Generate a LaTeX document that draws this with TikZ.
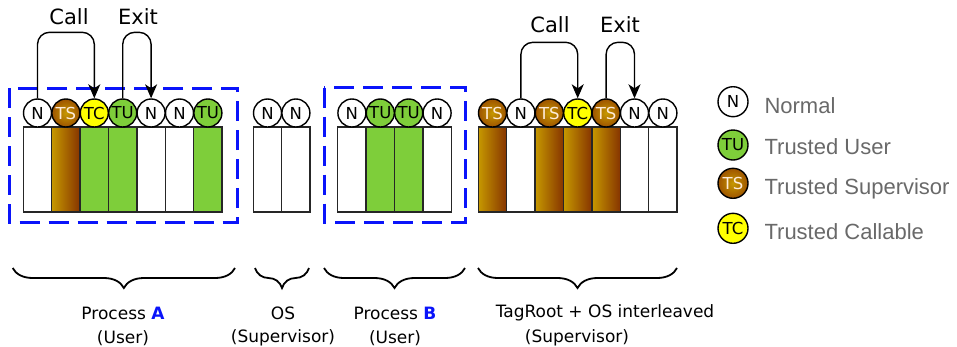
\documentclass[tikz,border=0pt]{standalone}
\usepackage{fontspec}
\setmainfont{DejaVu Sans}
\newfontfamily\legendfont{Liberation Sans}
\usetikzlibrary{arrows.meta,decorations.pathreplacing}

\definecolor{tugreen}{RGB}{126,206,58}
\definecolor{tcyellow}{RGB}{255,255,0}
\definecolor{tsgold}{RGB}{198,152,0}
\definecolor{tsbrown}{RGB}{134,52,0}
\definecolor{tsrim}{RGB}{158,84,0}
\definecolor{regblue}{RGB}{10,20,250}
\definecolor{legendgray}{RGB}{105,105,105}

\tikzset{
  tagbase/.style={circle, draw=black, line width=1.4pt, minimum size=28pt, inner sep=0pt, font=\fontsize{16.5}{16.5}\selectfont},
  tagN/.style={tagbase, fill=white},
  tagTU/.style={tagbase, fill=tugreen},
  tagTS/.style={tagbase, inner color=tsgold, outer color=tsrim, text=white!85!orange},
  tagTC/.style={tagbase, fill=tcyellow},
  colN/.style={draw=black!85, line width=1.5pt, fill=white},
  colTU/.style={colN, fill=tugreen},
  colTS/.style={colN, left color=tsgold, right color=tsbrown},
  jump/.style={line width=1.4pt, rounded corners=12pt, -{Stealth[length=14pt,width=12pt,inset=4pt]}},
  region/.style={draw=regblue, line width=3pt, dash pattern=on 20pt off 9pt},
  underbrace/.style={decorate, decoration={brace, mirror, amplitude=20pt}, line width=1.8pt},
  grouplabel/.style={font=\fontsize{17}{17}\selectfont},
  jumplabel/.style={font=\fontsize{21}{21}\selectfont},
  legendtext/.style={anchor=base west, text=legendgray, font=\legendfont\fontsize{22}{22}\selectfont},
}

\begin{document}
\begin{tikzpicture}[x=1pt, y=-1pt]
  \useasboundingbox (0,0) rectangle (957,346);

  % protection regions of the two user processes
  \draw[region] (9.3,88) rectangle (237,222.7);
  \draw[region] (324.3,87.7) rectangle (465.7,222);

  % memory words: columns first, tags on top
  \foreach \tag/\col [count=\i] in {N/N, TS/TS, TC/TU, TU/TU, N/N, N/N, TU/TU}
    \draw[col\col] ({23.3+(\i-1)*28.4},127) rectangle ++(28.4,85);
  \foreach \tag/\col [count=\i] in {N/N, N/N}
    \draw[col\col] ({253.3+(\i-1)*28.4},127) rectangle ++(28.4,85);
  \foreach \tag/\col [count=\i] in {N/N, TU/TU, TU/TU, N/N}
    \draw[col\col] ({337.7+(\i-1)*28.4},127) rectangle ++(28.4,85);
  \foreach \tag/\col [count=\i] in {TS/TS, N/N, TS/TS, TC/TS, TS/TS, N/N, N/N}
    \draw[col\col] ({478.3+(\i-1)*28.4},127) rectangle ++(28.4,85);

  \foreach \tag [count=\i] in {N, TS, TC, TU, N, N, TU}
    \node[tag\tag] (a\i) at ({23.3+(\i-0.5)*28.4},113) {\tag};
  \foreach \tag [count=\i] in {N, N}
    \node[tag\tag] (o\i) at ({253.3+(\i-0.5)*28.4},113) {\tag};
  \foreach \tag [count=\i] in {N, TU, TU, N}
    \node[tag\tag] (b\i) at ({337.7+(\i-0.5)*28.4},113) {\tag};
  \foreach \tag [count=\i] in {TS, N, TS, TC, TS, N, N}
    \node[tag\tag] (t\i) at ({478.3+(\i-0.5)*28.4},113) {\tag};

  % call and exit jumps
  \draw[jump] (a1.north) -- ++(0,-66) -| (a3.north);
  \draw[jump] (a4.north) -- ++(0,-66) -| (a5.north);
  \node[jumplabel] (callA) at (69,17) {Call};
  \node[jumplabel] (exitA) at (138,17) {Exit};

  \draw[jump] (t2.north) -- ++(0,-56) -| (t4.north);
  \draw[jump] (t5.north) -- ++(0,-56) -| (t6.north);
  \node[jumplabel] (callT) at (550,25) {Call};
  \node[jumplabel] (exitT) at (620,25) {Exit};

  % braces and owners
  \draw[underbrace] (12.7,268) -- (235,268);
  \draw[underbrace] (255,268) -- (309,268);
  \draw[underbrace] (324,268) -- (465,268);
  \draw[underbrace] (478,268) -- (677,268);

  \node[grouplabel] (procA) at (123,313) {Process \textcolor{regblue}{\textbf{A}}};
  \node[grouplabel] (userA) at (123,338) {(User)};
  \node[grouplabel] (os) at (283,313) {OS};
  \node[grouplabel] (osmode) at (283,338) {(Supervisor)};
  \node[grouplabel] (procB) at (395,313) {Process \textcolor{regblue}{\textbf{B}}};
  \node[grouplabel] (userB) at (395,338) {(User)};
  \node[grouplabel] (root) at (605,313) {TagRoot + OS interleaved};
  \node[grouplabel] (rootmode) at (577,338) {(Supervisor)};

  % legend
  \node[tagN, minimum size=30pt] (lN) at (733,101.7) {N};
  \node[tagTU, minimum size=30pt] (lTU) at (733,145) {TU};
  \node[tagTS, minimum size=30pt] (lTS) at (733,183.3) {TS};
  \node[tagTC, minimum size=30pt] (lTC) at (733,228.3) {TC};
  \node[legendtext] (txtN) at (761,113.3) {Normal};
  \node[legendtext] (txtTU) at (761,154.3) {Trusted User};
  \node[legendtext] (txtTS) at (761,194.3) {Trusted Supervisor};
  \node[legendtext] (txtTC) at (761,239) {Trusted Callable};
\end{tikzpicture}
\end{document}
